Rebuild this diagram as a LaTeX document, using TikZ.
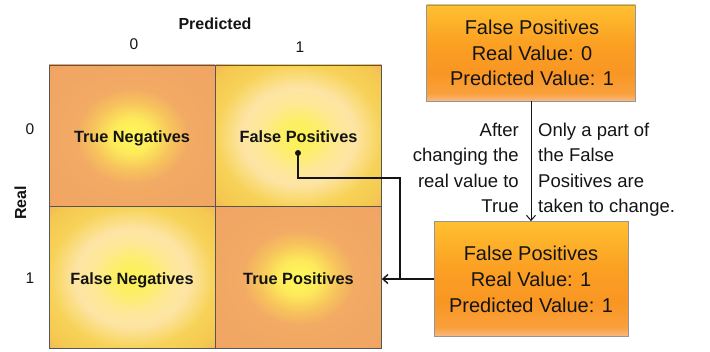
\documentclass[tikz,border=0pt]{standalone}
\usepackage{fontspec}
\setmainfont{Liberation Sans}
\usetikzlibrary{arrows.meta}
\definecolor{tnA}{RGB}{255,248,90}
\definecolor{tnB}{RGB}{253,235,90}
\definecolor{tnC}{RGB}{247,195,92}
\definecolor{tnD}{RGB}{242,170,100}
\definecolor{tnE}{RGB}{239,160,100}
\definecolor{fpA}{RGB}{252,242,80}
\definecolor{fpB}{RGB}{253,238,105}
\definecolor{fpC}{RGB}{253,232,150}
\definecolor{fpD}{RGB}{253,228,165}
\definecolor{fpE}{RGB}{250,220,125}
\definecolor{fpF}{RGB}{247,210,88}
\definecolor{fpG}{RGB}{245,200,80}
\definecolor{fpH}{RGB}{240,172,100}
\definecolor{bxA}{RGB}{250,185,130}
\definecolor{bxB}{RGB}{249,160,60}
\definecolor{bxC}{RGB}{249,150,35}
\definecolor{bxD}{RGB}{251,160,35}
\definecolor{bxE}{RGB}{255,192,48}
\definecolor{gridline}{RGB}{85,85,85}
\definecolor{boxline}{RGB}{150,150,150}
\definecolor{ink}{RGB}{20,20,20}
\pgfdeclareradialshading{tnshade}{\pgfpoint{0bp}{0bp}}{color(0bp)=(tnA); color(6bp)=(tnB); color(12bp)=(tnC); color(17bp)=(tnD); color(50bp)=(tnE)}
\pgfdeclareradialshading{fpshade}{\pgfpoint{0bp}{0bp}}{color(0bp)=(fpA); color(6bp)=(fpB); color(12bp)=(fpC); color(17bp)=(fpD); color(21bp)=(fpE); color(25bp)=(fpF); color(32bp)=(fpG); color(37bp)=(fpH); color(50bp)=(fpH)}
\pgfdeclareverticalshading{bxshade}{100bp}{color(0bp)=(bxA); color(25bp)=(bxA); color(29bp)=(bxB); color(40bp)=(bxC); color(55bp)=(bxD); color(75bp)=(bxE); color(100bp)=(bxE)}
\tikzset{
  cell/.style={rectangle, draw=gridline, line width=0.8pt, minimum width=166pt, minimum height=142pt, inner sep=0pt, text height=13.4pt, text depth=0pt, font=\fontsize{16.3}{20}\selectfont\bfseries, text=ink},
  fpbox/.style={rectangle, draw=boxline, line width=0.8pt, shading=bxshade, inner sep=0pt},
  boxtext/.style={anchor=base, inner sep=0pt, font=\fontsize{20}{25}\selectfont, text=ink},
  sidetext/.style={inner sep=0pt, font=\fontsize{18.5}{25}\selectfont, text=ink},
  axislabel/.style={anchor=base, inner sep=0pt, font=\fontsize{16}{20}\selectfont\bfseries, text=ink},
  digit/.style={anchor=base, inner sep=0pt, font=\fontsize{15.5}{20}\selectfont, text=ink},
  conn/.style={draw=ink, line width=1.4pt},
  thinconn/.style={draw=ink, line width=1pt},
  >={Straight Barb[length=5pt, width=9pt]}
}
\begin{document}
\begin{tikzpicture}[x=1pt,y=-1pt]
\useasboundingbox (0,0) rectangle (710,352);
% matrix cells
\node[cell, shading=tnshade] (tn) at (132,136) {True Negatives};
\node[cell, shading=fpshade] (fp) at (298.5,136) {False Positives};
\node[cell, shading=fpshade] (fn) at (132,277.5) {False Negatives};
\node[cell, shading=tnshade] (tp) at (298.5,277.5) {True Positives};
% axis labels
\node[axislabel] (pred) at (215,30) {Predicted};
\node[digit] (c0) at (134,49.3) {0};
\node[digit] (c1) at (300,52.7) {1};
\node[digit] (r0) at (30,134.7) {0};
\node[digit] (r1) at (30,283.3) {1};
\node[axislabel, rotate=90] (real) at (26,203) {Real};
% right boxes
\node[fpbox, minimum width=209pt, minimum height=96pt] (b1) at (531,53) {};
\node[boxtext] (b1a) at (532,35) {False Positives};
\node[boxtext] (b1b) at (532,60.5) {Real Value: 0};
\node[boxtext] (b1c) at (532,86) {Predicted Value: 1};
\node[fpbox, minimum width=194pt, minimum height=115pt] (b2) at (531,279) {};
\node[boxtext] (b2a) at (531,261) {False Positives};
\node[boxtext] (b2b) at (531,286.7) {Real Value: 1};
\node[boxtext] (b2c) at (531,312.3) {Predicted Value: 1};
% side texts
\node[sidetext, anchor=base east] (l1) at (519,136.7) {After};
\node[sidetext, anchor=base east] (l2) at (519,162) {changing the};
\node[sidetext, anchor=base east] (l3) at (519,187.3) {real value to};
\node[sidetext, anchor=base east] (l4) at (519,212.7) {True};
\node[sidetext, anchor=base west] (s1) at (538,136.7) {Only a part of};
\node[sidetext, anchor=base west] (s2) at (538,162) {the False};
\node[sidetext, anchor=base west] (s3) at (538,187.3) {Positives are};
\node[sidetext, anchor=base west] (s4) at (538,212.7) {taken to change.};
% connectors
\draw[thinconn, ->] (b1.south) -- (b2.north);
\coordinate (d) at (298,153);
\coordinate (k) at (400,178);
\coordinate (j) at (k |- b2.west);
\fill[ink] (d) circle (3pt);
\draw[conn] (d) |- (k) -- (j);
\draw[conn, ->] (b2.west) -- (b2.west -| tp.east);
\end{tikzpicture}
\end{document}
